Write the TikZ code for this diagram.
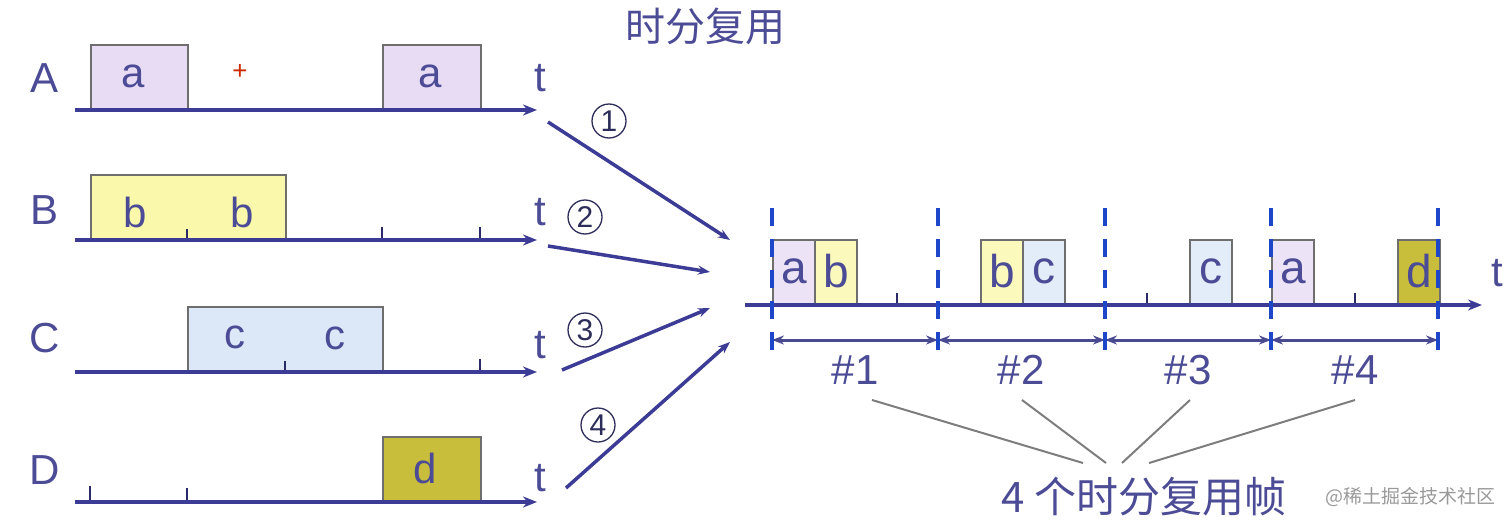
\documentclass[tikz,border=0pt]{standalone}
\usepackage{fontspec}
\setmainfont{Liberation Sans}
\newfontfamily\cjk{Noto Sans CJK SC}
\usetikzlibrary{arrows.meta}
\definecolor{axiscol}{RGB}{60,60,150}
\definecolor{txtcol}{RGB}{75,75,150}
\definecolor{acol}{RGB}{232,220,245}
\definecolor{bcol}{RGB}{250,248,170}
\definecolor{ccol}{RGB}{220,232,248}
\definecolor{dcol}{RGB}{200,190,60}
\definecolor{boxdraw}{RGB}{110,110,110}
\definecolor{dashcol}{RGB}{30,70,200}
\definecolor{leadcol}{RGB}{125,125,125}
\begin{document}
\begin{tikzpicture}[x=1pt,y=-1pt,
  axis/.style={line width=4pt, draw=axiscol, -{Stealth[length=14pt,width=11pt]}},
  slotbox/.style={draw=boxdraw, line width=2pt, inner sep=0pt, anchor=south west, minimum height=64pt},
  lbl/.style={text=txtcol, font=\fontsize{42}{48}\selectfont, inner sep=0pt},
  let/.style={text=txtcol, font=\fontsize{42}{48}\selectfont, inner sep=0pt},
  rlet/.style={text=txtcol, font=\fontsize{46}{50}\selectfont, inner sep=0pt},
  tick/.style={draw=axiscol!70!black, line width=1.6pt},
  feed/.style={line width=3.5pt, draw=axiscol, -{Stealth[length=12pt,width=9pt]}},
  circ/.style={circle, draw=txtcol!60!black, line width=1.3pt, minimum size=34pt, inner sep=0pt,
     text=txtcol!60!black, font=\fontsize{30}{34}\selectfont},
  frame/.style={draw=dashcol, line width=4pt, dash pattern=on 18pt off 13pt},
  span/.style={draw=axiscol!80!gray, line width=3pt, {Stealth[length=12pt,width=9pt]}-{Stealth[length=12pt,width=9pt]}},
  lead/.style={draw=leadcol, line width=2pt}]
\useasboundingbox (0,0) rectangle (1512,530);

% title
\node[text=txtcol, font=\cjk\fontsize{40}{46}\selectfont, inner sep=0pt] (title) at (705,26) {时分复用};

% ---------- row A
\node[slotbox, fill=acol, minimum width=97pt] (a1) at (90,110) {};
\node[slotbox, fill=acol, minimum width=98pt] (a2) at (382,110) {};
\node[let] (la1) at (133,76) {a};
\node[let] (la2) at (430,76) {a};
\node[text=red!60!orange!80!black, font=\fontsize{26}{28}\selectfont, inner sep=0pt] (plus) at (240,72) {+};
\coordinate (A0) at (75,110); \coordinate (A1) at (537,110);
\draw[axis] (A0) -- (A1);
\node[lbl] (LA) at (45,78) {A};
\node[lbl] (tA) at (540,78) {t};

% ---------- row B
\node[slotbox, fill=bcol, minimum width=195pt] (b1) at (90,240) {};
\node[let] (lb1) at (135,212) {b};
\node[let] (lb2) at (242,212) {b};
\coordinate (B0) at (75,240); \coordinate (B1) at (537,240);
\draw[tick] (187,240) -- (187,229);
\draw[tick] (382,240) -- (382,227);
\draw[tick] (480,240) -- (480,227);
\draw[axis] (B0) -- (B1);
\node[lbl] (LB) at (45,210) {B};
\node[lbl] (tB) at (540,212) {t};

% ---------- row C
\node[slotbox, fill=ccol, minimum width=195pt] (c1) at (187,372) {};
\node[let] (lc1) at (235,337) {c};
\node[let] (lc2) at (335,338) {c};
\coordinate (C0) at (75,372); \coordinate (C1) at (537,372);
\draw[tick] (285,372) -- (285,361);
\draw[tick] (480,372) -- (480,359);
\draw[axis] (C0) -- (C1);
\node[lbl] (LC) at (45,338) {C};
\node[lbl] (tC) at (540,345) {t};

% ---------- row D
\node[slotbox, fill=dcol, minimum width=98pt] (d1) at (382,502) {};
\node[let] (ld1) at (425,468) {d};
\coordinate (D0) at (75,502); \coordinate (D1) at (537,502);
\draw[tick] (90,502) -- (90,486);
\draw[tick] (187,502) -- (187,488);
\draw[axis] (D0) -- (D1);
\node[lbl] (LD) at (45,470) {D};
\node[lbl] (tD) at (540,478) {t};

% ---------- feeding arrows
\coordinate (s1) at (548,122); \coordinate (e1) at (730,240);
\coordinate (s2) at (548,246); \coordinate (e2) at (710,272);
\coordinate (s3) at (562,370); \coordinate (e3) at (710,308);
\coordinate (s4) at (566,488); \coordinate (e4) at (730,342);
\draw[feed] (s1) -- (e1);
\draw[feed] (s2) -- (e2);
\draw[feed] (s3) -- (e3);
\draw[feed] (s4) -- (e4);
\node[circ] (n1) at (609,121) {1};
\node[circ] (n2) at (585,217) {2};
\node[circ] (n3) at (585,330) {3};
\node[circ] (n4) at (598,425) {4};

% ---------- multiplexed line
\node[slotbox, fill=acol!80, minimum width=42pt] (ra1) at (772,305) {};
\node[slotbox, fill=bcol!80, minimum width=42pt] (rb1) at (814,305) {};
\node[slotbox, fill=bcol!80, minimum width=42pt] (rb2) at (980,305) {};
\node[slotbox, fill=ccol!80, minimum width=42pt] (rc1) at (1022,305) {};
\node[slotbox, fill=ccol!80, minimum width=42pt] (rc2) at (1189,305) {};
\node[slotbox, fill=acol!80, minimum width=42pt] (ra2) at (1271,305) {};
\node[slotbox, fill=dcol, minimum width=42pt] (rd1) at (1397,305) {};
\node[rlet] at ([yshift=1pt]ra1.center) {a};
\node[rlet] at ([yshift=1pt]rb1.center) {b};
\node[rlet] at ([yshift=1pt]rb2.center) {b};
\node[rlet] at ([yshift=1pt]rc1.center) {c};
\node[rlet] at ([yshift=1pt]rc2.center) {c};
\node[rlet] at ([yshift=1pt]ra2.center) {a};
\node[rlet] at ([yshift=1pt]rd1.center) {d};
\draw[tick] (897,305) -- (897,293);
\draw[tick] (1147,305) -- (1147,293);
\draw[tick] (1355,305) -- (1355,293);
\coordinate (R0) at (745,305); \coordinate (R1) at (1482,305);
\draw[axis] (R0) -- (R1);
\node[lbl] (tR) at (1497,273) {t};

% frame boundaries
\foreach \i/\x in {0/772,1/938,2/1105,3/1271,4/1438} {
  \coordinate (ft\i) at (\x,208);
  \coordinate (fm\i) at (\x,340);
  \coordinate (fb\i) at (\x,360);
}
\foreach \i/\j in {0/1,1/2,2/3,3/4} {
  \draw[span] (fm\i) -- (fm\j);
}
\foreach \i in {0,...,4} {
  \draw[frame] (ft\i) -- (fb\i);
}
\node[lbl] (f1) at (855,370) {\#1};
\node[lbl] (f2) at (1021,370) {\#2};
\node[lbl] (f3) at (1188,370) {\#3};
\node[lbl] (f4) at (1355,370) {\#4};

% caption and leaders
\node[text=txtcol, font=\cjk\fontsize{42}{48}\selectfont, inner sep=0pt] (cap) at (1144,497) {4 个时分复用帧};
\coordinate (l1) at (1083,463); \coordinate (l2) at (1106,463);
\coordinate (l3) at (1122,463); \coordinate (l4) at (1149,463);
\draw[lead] (872,400) -- (l1);
\draw[lead] (1022,400) -- (l2);
\draw[lead] (1190,400) -- (l3);
\draw[lead] (1355,400) -- (l4);
\node[text=gray!80, font=\cjk\fontsize{19}{22}\selectfont, inner sep=0pt] (wm) at (1410,497) {@稀土掘金技术社区};
\end{tikzpicture}
\end{document}
